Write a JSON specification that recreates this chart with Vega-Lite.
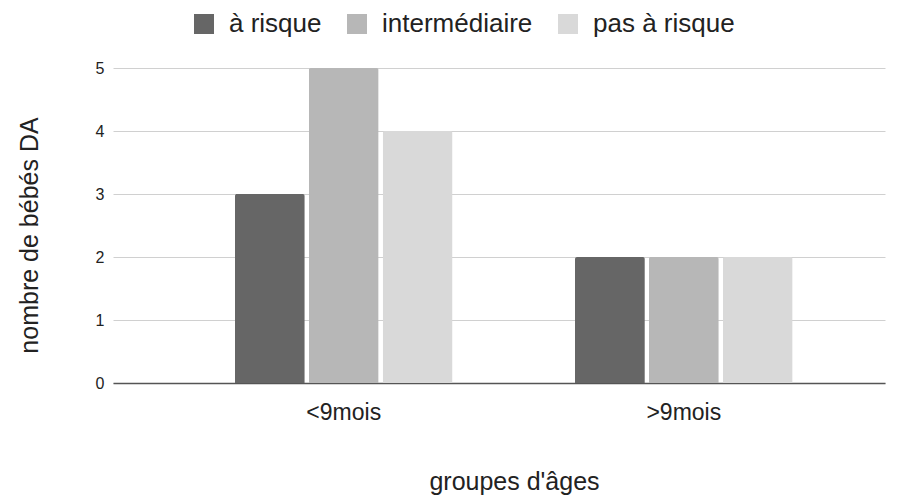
{
  "$schema": "https://vega.github.io/schema/vega-lite/v6.json",
  "autosize": "none",
  "width": 772,
  "height": 315,
  "padding": {"left": 113, "top": 68, "right": 16, "bottom": 115},
  "background": "white",
  "config": {
    "font": "Liberation Sans",
    "view": {"stroke": null}
  },
  "data": {
    "values": [
      {"groupe": "<9mois", "statut": "à risque", "nombre": 3},
      {"groupe": "<9mois", "statut": "intermédiaire", "nombre": 5},
      {"groupe": "<9mois", "statut": "pas à risque", "nombre": 4},
      {"groupe": ">9mois", "statut": "à risque", "nombre": 2},
      {"groupe": ">9mois", "statut": "intermédiaire", "nombre": 2},
      {"groupe": ">9mois", "statut": "pas à risque", "nombre": 2}
    ]
  },
  "mark": {"type": "bar", "cornerRadiusTopLeft": 2, "cornerRadiusTopRight": 2},
  "encoding": {
    "x": {
      "field": "groupe",
      "type": "nominal",
      "sort": ["<9mois", ">9mois"],
      "scale": {"paddingInner": 0.36, "paddingOuter": 0.315, "align": 0.569},
      "axis": {
        "title": "groupes d'âges",
        "titleFontSize": 25,
        "titleFontWeight": "normal",
        "titleColor": "#222222",
        "titlePadding": 45,
        "titleX": 401,
        "labelAngle": 0,
        "labelFontSize": 23,
        "labelColor": "#222222",
        "labelPadding": 18,
        "ticks": false,
        "domainColor": "#555555",
        "domainWidth": 1.5
      }
    },
    "xOffset": {
      "field": "statut",
      "type": "nominal",
      "sort": ["à risque", "intermédiaire", "pas à risque"],
      "scale": {"paddingInner": 0.055}
    },
    "y": {
      "field": "nombre",
      "type": "quantitative",
      "scale": {"domain": [0, 5]},
      "axis": {
        "title": "nombre de bébés DA",
        "titleFontSize": 25,
        "titleFontWeight": "normal",
        "titleColor": "#222222",
        "titlePadding": 53,
        "titleY": 167,
        "values": [0, 1, 2, 3, 4, 5],
        "labelFontSize": 16,
        "labelColor": "#222222",
        "labelPadding": 9,
        "ticks": false,
        "domain": false,
        "gridColor": "#d0d0d0",
        "gridWidth": 1
      }
    },
    "color": {
      "field": "statut",
      "type": "nominal",
      "sort": ["à risque", "intermédiaire", "pas à risque"],
      "scale": {
        "domain": ["à risque", "intermédiaire", "pas à risque"],
        "range": ["#666666", "#b7b7b7", "#d9d9d9"]
      },
      "legend": {
        "title": null,
        "orient": "none",
        "direction": "horizontal",
        "legendX": 78,
        "legendY": -57,
        "symbolType": "square",
        "symbolSize": 400,
        "symbolStrokeWidth": 0,
        "labelFontSize": 26,
        "labelColor": "#222222",
        "labelOffset": 12,
        "columnPadding": 22
      }
    }
  }
}
